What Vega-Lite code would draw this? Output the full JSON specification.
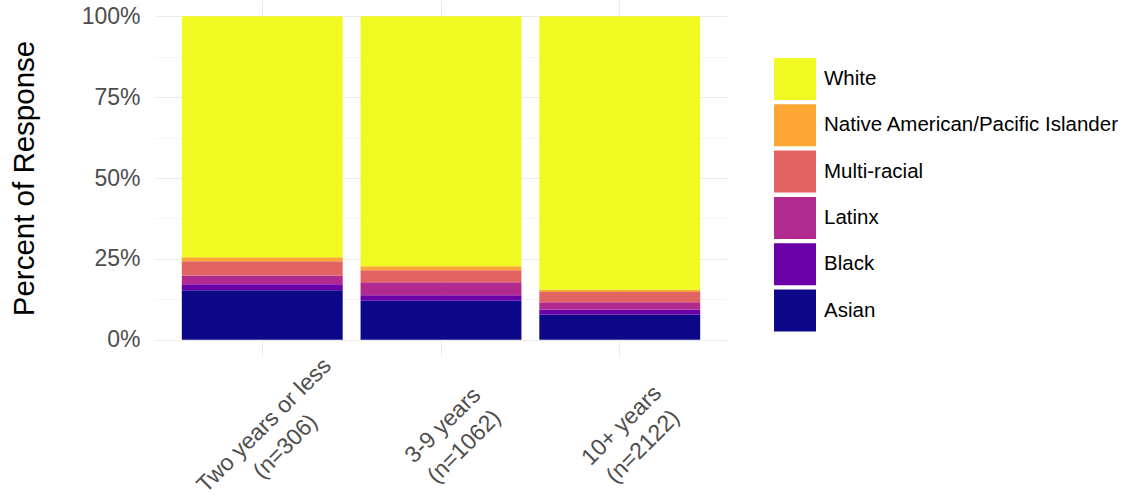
{
  "$schema": "https://vega.github.io/schema/vega-lite/v6.json",
  "width": 572,
  "height": 356,
  "autosize": "none",
  "padding": {"left": 155, "top": 0, "right": 402, "bottom": 144},
  "background": "white",
  "config": {
    "font": "Liberation Sans",
    "view": {"stroke": null},
    "axis": {"gridColor": "#EBEBEB", "domain": false, "ticks": false}
  },
  "data": {
    "values": [
      {"group": "Two years or less\n(n=306)", "race": "Asian", "pct": 15.3},
      {"group": "Two years or less\n(n=306)", "race": "Black", "pct": 1.9},
      {"group": "Two years or less\n(n=306)", "race": "Latinx", "pct": 2.7},
      {"group": "Two years or less\n(n=306)", "race": "Multi-racial", "pct": 4.4},
      {"group": "Two years or less\n(n=306)", "race": "Native American/Pacific Islander", "pct": 1.2},
      {"group": "Two years or less\n(n=306)", "race": "White", "pct": 74.5},
      {"group": "3-9 years\n(n=1062)", "race": "Asian", "pct": 12.1},
      {"group": "3-9 years\n(n=1062)", "race": "Black", "pct": 1.7},
      {"group": "3-9 years\n(n=1062)", "race": "Latinx", "pct": 4.0},
      {"group": "3-9 years\n(n=1062)", "race": "Multi-racial", "pct": 3.7},
      {"group": "3-9 years\n(n=1062)", "race": "Native American/Pacific Islander", "pct": 1.2},
      {"group": "3-9 years\n(n=1062)", "race": "White", "pct": 77.3},
      {"group": "10+ years\n(n=2122)", "race": "Asian", "pct": 7.8},
      {"group": "10+ years\n(n=2122)", "race": "Black", "pct": 1.6},
      {"group": "10+ years\n(n=2122)", "race": "Latinx", "pct": 2.2},
      {"group": "10+ years\n(n=2122)", "race": "Multi-racial", "pct": 3.2},
      {"group": "10+ years\n(n=2122)", "race": "Native American/Pacific Islander", "pct": 0.7},
      {"group": "10+ years\n(n=2122)", "race": "White", "pct": 84.5}
    ]
  },
  "layer": [
    {
      "mark": {"type": "bar", "opacity": 0},
      "encoding": {
        "x": {"field": "group", "type": "nominal", "sort": null,
              "scale": {"paddingInner": 0.1, "paddingOuter": 0.15}},
        "y": {"field": "pct", "type": "quantitative", "stack": "normalize",
              "scale": {"domain": [-0.05, 1.05], "nice": false, "zero": false},
              "axis": {"orient": "right", "values": [0.125, 0.375, 0.625, 0.875], "labels": false, "title": null, "grid": true, "gridWidth": 0.6, "gridColor": "#F0F0F0"}},
        "order": {"field": "race", "sort": "ascending"}
      }
    },
    {
      "mark": {"type": "bar"},
      "encoding": {
        "x": {"field": "group", "type": "nominal", "sort": null,
              "scale": {"paddingInner": 0.1, "paddingOuter": 0.15},
              "axis": {"title": null, "grid": true, "gridWidth": 1.1, "bandPosition": 0.5,
                       "labelExpr": "split(datum.label, '\\n')",
                       "labelAngle": -45, "labelAlign": "center", "labelBaseline": "middle",
                       "labelPadding": 69, "labelOffset": 2, "labelLineHeight": 30,
                       "labelFontSize": 23, "labelColor": "#4D4D4D"}},
        "y": {"field": "pct", "type": "quantitative", "stack": "normalize",
              "scale": {"domain": [-0.05, 1.05], "nice": false, "zero": false},
              "axis": {"orient": "left", "values": [0, 0.25, 0.5, 0.75, 1], "format": ".0%",
                       "grid": true, "gridWidth": 1.1, "labelFontSize": 23, "labelColor": "#4D4D4D", "labelPadding": 15,
                       "title": "Percent of Response", "titleFontSize": 29.5, "titleFontWeight": "normal", "titleColor": "black",
                       "titleAngle": -90, "titleX": -131, "titleY": 178, "titleAlign": "center", "titleBaseline": "middle"}},
        "color": {"field": "race", "type": "nominal",
                  "scale": {"domain": ["White", "Native American/Pacific Islander", "Multi-racial", "Latinx", "Black", "Asian"],
                            "range": ["#F0F921", "#FCA636", "#E16462", "#B12A90", "#6A00A8", "#0D0887"]},
                  "legend": {"title": null, "orient": "none", "legendX": 619, "legendY": 58,
                             "symbolType": "square", "symbolSize": 1764, "symbolStrokeWidth": 0,
                             "rowPadding": 4.3, "labelFontSize": 20.5, "labelColor": "black", "labelOffset": 8,
                             "labelLimit": 400}},
        "order": {"field": "race", "sort": "ascending"}
      }
    }
  ],
  "resolve": {"axis": {"y": "independent"}}
}
